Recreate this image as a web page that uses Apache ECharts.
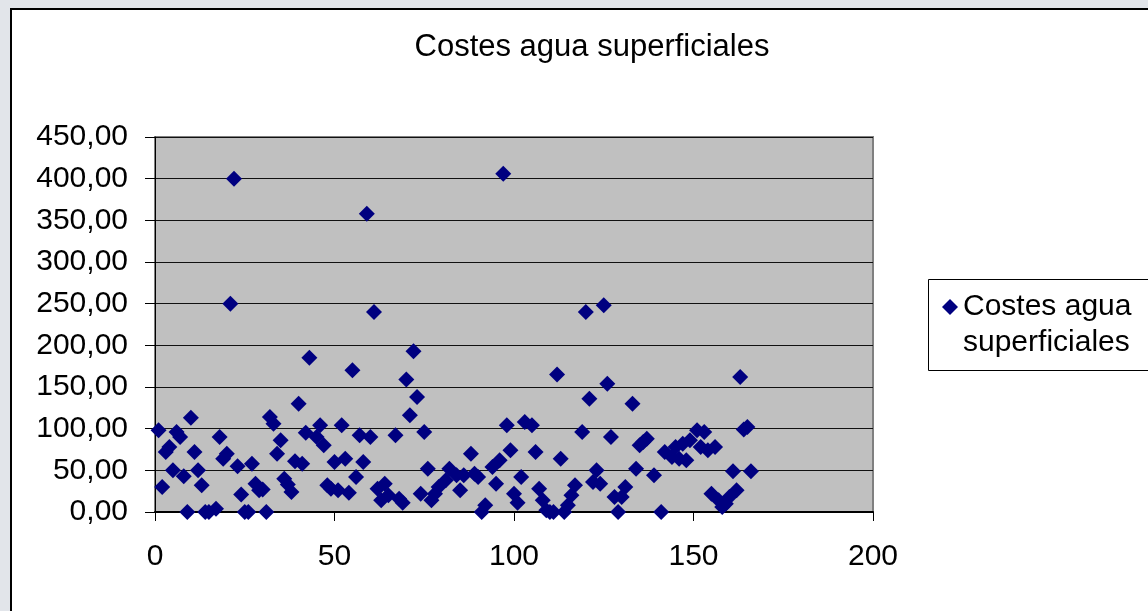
<!DOCTYPE html>
<html>
<head>
<meta charset="utf-8">
<script src="https://cdn.jsdelivr.net/npm/echarts@6/dist/echarts.min.js"></script>
<style>
  html, body { margin: 0; padding: 0; background: #e2e5ea; }
  #frame {
    position: absolute; left: 10px; top: 8px; width: 1140px; height: 605px;
    background: #fff; border-left: 2px solid #000; border-top: 2px solid #000;
  }
  #chart { position: absolute; left: 0; top: 0; width: 1148px; height: 611px; }
</style>
</head>
<body>
<div id="frame"></div>
<div id="chart"></div>
<script>
// x = numero de registro, y = coste
const xIndex = [
  1, 2, 3, 4, 5, 6, 7, 8, 9, 10, 11, 12, 13, 14, 15, 17, 18, 19, 20, 21,
  22, 23, 24, 25, 26, 27, 28, 29, 30, 31, 32, 33, 34, 35, 36, 37, 38, 39, 40, 41,
  42, 43, 45, 46, 47, 48, 49, 50, 51, 52, 53, 54, 55, 56, 57, 58, 59, 60, 61, 62,
  63, 64, 65, 67, 68, 69, 70, 71, 72, 73, 74, 75, 76, 77, 78, 79, 81, 82, 84, 85,
  86, 88, 89, 90, 91, 92, 94, 95, 96, 97, 98, 99, 100, 101, 102, 103, 105, 106, 107, 108,
  109, 110, 111, 112, 113, 114, 115, 116, 117, 119, 120, 121, 122, 123, 124, 125, 126, 127, 128, 129,
  130, 131, 133, 134, 135, 136, 137, 139, 141, 142, 144, 145, 146, 147, 148, 149, 151, 152, 153, 154,
  155, 156, 157, 158, 159, 160, 161, 162, 163, 164, 165, 166
]
const costes = [
  98, 30, 72, 78, 50, 96, 90, 43, 0, 113, 72, 50, 32, 0, 0, 4, 90, 64, 70, 250,
  400, 55, 21, 0, 0, 58, 34, 26, 27, 0, 114, 106, 70, 86, 40, 33, 24, 61, 130, 58,
  95, 185, 90, 104, 80, 32, 28, 60, 26, 104, 64, 23, 170, 42, 92, 60, 358, 90, 240, 28,
  14, 34, 20, 92, 16, 11, 159, 116, 193, 138, 22, 96, 52, 14, 22, 30, 38, 52, 44, 26,
  44, 70, 46, 42, 0, 8, 54, 34, 62, 406, 104, 74, 22, 11, 42, 108, 104, 72, 28, 14,
  2, 0, 0, 165, 64, 0, 8, 20, 32, 96, 240, 136, 36, 50, 34, 248, 154, 90, 18, 0,
  18, 30, 130, 52, 80, 84, 88, 44, 0, 72, 66, 78, 64, 82, 62, 86, 98, 78, 96, 74,
  22, 78, 14, 6, 10, 18, 49, 26, 162, 99, 102, 49
]
const xTicks = [0, 50, 100, 150, 200]
const yTicks = [0, 50, 100, 150, 200, 250, 300, 350, 400, 450]

const serieName = 'Costes agua superficiales'
const font = 'Liberation Sans, Arial, sans-serif'

const points = xIndex.map((x, i) => [x, costes[i]])

const chart = echarts.init(document.getElementById('chart'))
chart.setOption({
  animation: false,
  textStyle: { fontFamily: font, color: '#000' },
  title: {
    text: serieName,
    left: 587,
    textAlign: 'center',
    top: 27,
    textStyle: { fontSize: 31, fontWeight: 'normal', color: '#000', fontFamily: font }
  },
  legend: {
    left: 937,
    top: 248,
    icon: 'diamond',
    itemWidth: 16,
    itemHeight: 16,
    data: [serieName],
    // primera linea vacia para que el rombo quede a la altura de "Costes agua"
    formatter: () => ' \nCostes agua\nsuperficiales',
    textStyle: { fontSize: 30, color: '#000', fontFamily: font, lineHeight: 36 }
  },
  graphic: [{
    type: 'rect',
    shape: { x: 928.5, y: 279.5, width: 240, height: 91 },
    style: { fill: 'none', stroke: '#000', lineWidth: 1 },
    silent: true
  }],
  grid: {
    left: 155, top: 137, width: 718, height: 375,
    show: true, backgroundColor: '#c0c0c0', borderColor: '#808080', borderWidth: 2
  },
  xAxis: {
    type: 'value',
    min: xTicks[0], max: xTicks[xTicks.length - 1], interval: 50,
    axisLine: { lineStyle: { color: '#000', width: 2 } },
    axisTick: { show: true, inside: false, length: 9, lineStyle: { color: '#000' } },
    axisLabel: { fontSize: 30, color: '#000', margin: 30, fontFamily: font },
    splitLine: { show: false }
  },
  yAxis: {
    type: 'value',
    min: yTicks[0], max: yTicks[yTicks.length - 1], interval: 50,
    axisLine: { show: true, lineStyle: { color: '#000', width: 1 } },
    axisTick: { show: true, inside: false, length: 10, lineStyle: { color: '#000' } },
    axisLabel: {
      fontSize: 30, color: '#000', margin: 27, fontFamily: font,
      formatter: v => v.toFixed(2).replace('.', ',')
    },
    splitLine: { show: true, lineStyle: { color: '#111', width: 1 } }
  },
  series: [{
    name: serieName,
    type: 'scatter',
    symbol: 'diamond',
    symbolSize: 16,
    itemStyle: { color: '#000080', opacity: 1 },
    data: points
  }]
})
</script>
</body>
</html>
